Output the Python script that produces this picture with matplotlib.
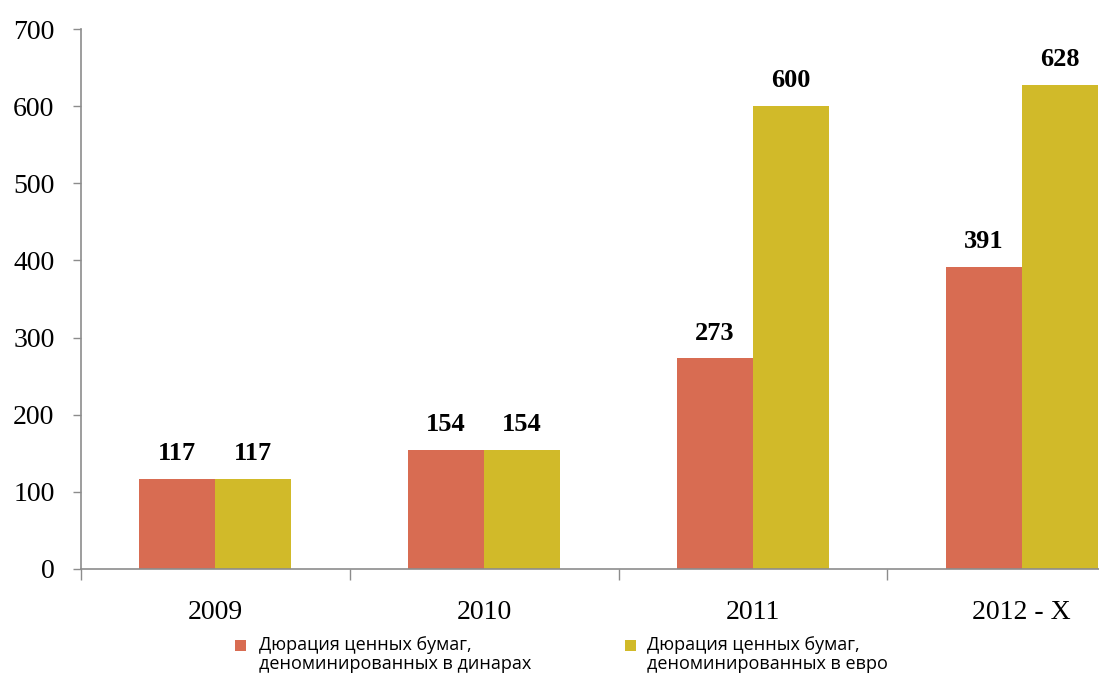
import matplotlib
matplotlib.use("Agg")
import matplotlib.pyplot as plt
import matplotlib.patches as mpatches
import numpy as np

categories = ["2009", "2010", "2011", "2012 - X"]
dinar_values = [117, 154, 273, 391]
euro_values = [117, 154, 600, 628]
series_labels = [
    "Дюрация ценных бумаг,\nденоминированных в динарах",
    "Дюрация ценных бумаг,\nденоминированных в евро",
]
y_ticks = [0, 100, 200, 300, 400, 500, 600, 700]

c_dinar = "#D86C52"
c_euro = "#D1BA29"
axis_grey = "#8C8C8C"

W, H = 1099, 677
fig = plt.figure(figsize=(W / 100, H / 100), dpi=100)
ax = fig.add_axes([81 / W, 1 - 569 / H, (1156 - 81) / W, (569 - 29) / H])

x = np.arange(len(categories))
bw = 0.283
ax.bar(x - bw / 2, dinar_values, bw, color=c_dinar, linewidth=0)
ax.bar(x + bw / 2, euro_values, bw, color=c_euro, linewidth=0)

label_font = dict(family="Liberation Serif", fontsize=19, fontweight="bold")
for xi, v in zip(x - bw / 2, dinar_values):
    ax.text(xi, v + 18, str(v), ha="center", va="bottom", **label_font)
for xi, v in zip(x + bw / 2, euro_values):
    ax.text(xi, v + 18, str(v), ha="center", va="bottom", **label_font)

ax.set_xlim(-0.5, len(categories) - 0.5)
ax.set_ylim(0, 700)
ax.set_yticks(y_ticks)
ax.set_yticklabels([str(t) for t in y_ticks], family="Liberation Serif", fontsize=20)

# category labels centred, tick marks between categories
ax.set_xticks(x)
ax.set_xticklabels(categories, family="Liberation Serif", fontsize=20)
ax.tick_params(axis="x", length=0, pad=22)
ax.set_xticks(np.arange(len(categories) + 1) - 0.5, minor=True)
ax.tick_params(axis="x", which="minor", length=8, color=axis_grey, width=1)
ax.tick_params(axis="y", length=6, color=axis_grey, width=1, pad=13)

for side in ("top", "right"):
    ax.spines[side].set_visible(False)
for side in ("left", "bottom"):
    ax.spines[side].set_color(axis_grey)
    ax.spines[side].set_linewidth(1.2)

# legend: square swatch aligned with the first line of each two-line label
legend_items = [(235, 259, c_dinar, series_labels[0]),
                (625, 647, c_euro, series_labels[1])]
for sq_x, txt_x, col, lab in legend_items:
    fig.patches.append(mpatches.Rectangle(
        (sq_x / W, 1 - 651 / H), 11 / W, 11 / H,
        transform=fig.transFigure, facecolor=col, edgecolor="none"))
    fig.text(txt_x / W, 1 - 636 / H, lab, ha="left", va="top",
             family="Open Sans", fontsize=13, linespacing=1.1)

fig.savefig("out.png", dpi=100)
